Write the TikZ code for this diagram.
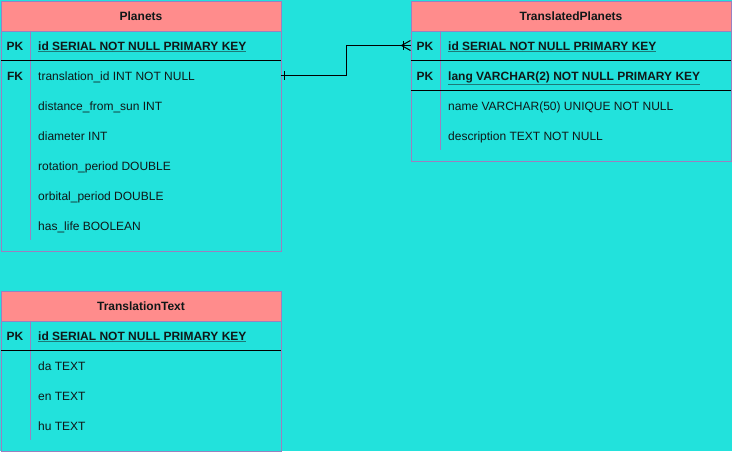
\documentclass[tikz,border=0pt]{standalone}
\usepackage{fontspec}
\setmainfont{Liberation Sans}
\definecolor{bgcol}{HTML}{22E2DC}
\definecolor{headcol}{HTML}{FF8C8C}
\definecolor{bordcol}{HTML}{9A80C0}
\definecolor{txtcol}{HTML}{101818}
\definecolor{ulcol}{HTML}{1E7A78}
\newcommand\keyul[1]{\textcolor{ulcol}{\underline{\textcolor{txtcol}{#1}}}}
\begin{document}
\begin{tikzpicture}[x=1pt,y=-1pt,
  tablebox/.style={draw=bordcol, line width=1pt, fill=bgcol, anchor=north west, inner sep=0pt},
  headbox/.style={draw=bordcol, line width=1pt, fill=headcol, anchor=north west, inner sep=0pt, minimum height=30pt, font=\fontsize{12}{14}\selectfont\bfseries, text=txtcol},
  keylab/.style={anchor=base, font=\fontsize{12}{14}\selectfont\bfseries, text=txtcol, inner sep=0pt},
  pkrow/.style={anchor=base west, font=\fontsize{12}{14}\selectfont\bfseries, text=txtcol, inner sep=0pt},
  row/.style={anchor=base west, font=\fontsize{12}{14}\selectfont, text=txtcol, inner sep=0pt},
  divider/.style={draw=bordcol, line width=1pt},
  sepline/.style={draw=black, line width=1pt},
  conn/.style={draw=black, line width=1pt}
]
\useasboundingbox (0,0) rectangle (732,451);
\fill[bgcol] (0,0) rectangle (732,451);

% ---------- Planets ----------
\node[tablebox, minimum width=280pt, minimum height=250pt] (planets) at (0.5,0.5) {};
\node[headbox, minimum width=280pt] (planetsH) at (0.5,0.5) {Planets};
\draw[divider] (30.5,30.5) -- (30.5,240);
\draw[sepline] (0.5,60.5) -- (280.5,60.5);
\node[keylab] (pPK) at (15,50) {PK};
\node[pkrow] (pid) at (38,50) {\keyul{id SERIAL NOT NULL PRIMARY KEY}};
\node[keylab] (pFK) at (15,80.5) {FK};
\node[row] (ptr) at (38,80.5) {translation\_id INT NOT NULL};
\node[row] (pdist) at (38,110.5) {distance\_from\_sun INT};
\node[row] (pdia) at (38,140.5) {diameter INT};
\node[row] (prot) at (38,170.5) {rotation\_period DOUBLE};
\node[row] (porb) at (38,200.5) {orbital\_period DOUBLE};
\node[row] (plife) at (38,230.5) {has\_life BOOLEAN};
\coordinate (pout) at (280.5,75.5);

% ---------- TranslatedPlanets ----------
\node[tablebox, minimum width=320pt, minimum height=160pt] (tp) at (410.5,0.5) {};
\node[headbox, minimum width=320pt] (tpH) at (410.5,0.5) {TranslatedPlanets};
\draw[divider] (440.5,30.5) -- (440.5,150);
\draw[sepline] (410.5,60.5) -- (730.5,60.5);
\draw[sepline] (410.5,90.5) -- (730.5,90.5);
\node[keylab] (tPK1) at (425,50) {PK};
\node[pkrow] (tid) at (448,50) {\keyul{id SERIAL NOT NULL PRIMARY KEY}};
\node[keylab] (tPK2) at (425,80) {PK};
\node[pkrow] (tlang) at (448,80) {\keyul{lang VARCHAR(2) NOT NULL PRIMARY KEY}};
\node[row] (tname) at (448,110.5) {name VARCHAR(50) UNIQUE NOT NULL};
\node[row] (tdesc) at (448,140.5) {description TEXT NOT NULL};
\coordinate (tin) at (410.5,45.5);

% ---------- TranslationText ----------
\node[tablebox, minimum width=280pt, minimum height=160pt] (tt) at (0.5,290.5) {};
\node[headbox, minimum width=280pt] (ttH) at (0.5,290.5) {TranslationText};
\draw[divider] (30.5,320.5) -- (30.5,440);
\draw[sepline] (0.5,350.5) -- (280.5,350.5);
\node[keylab] (ttPK) at (15,340) {PK};
\node[pkrow] (ttid) at (38,340) {\keyul{id SERIAL NOT NULL PRIMARY KEY}};
\node[row] (tda) at (38,370.5) {da TEXT};
\node[row] (ten) at (38,400.5) {en TEXT};
\node[row] (thu) at (38,430.5) {hu TEXT};

% ---------- connector ----------
\draw[conn] (pout) -- (346.5,75.5) -- (346.5,45.5) -- (tin);
% one mark at Planets side
\draw[conn] (284.5,71) -- (284.5,80);
% one-or-many at TranslatedPlanets side
\draw[conn] (403.5,41) -- (403.5,50);
\draw[conn] (401.5,45.5) -- (410.5,40.5);
\draw[conn] (401.5,45.5) -- (410.5,50.5);
\end{tikzpicture}
\end{document}
